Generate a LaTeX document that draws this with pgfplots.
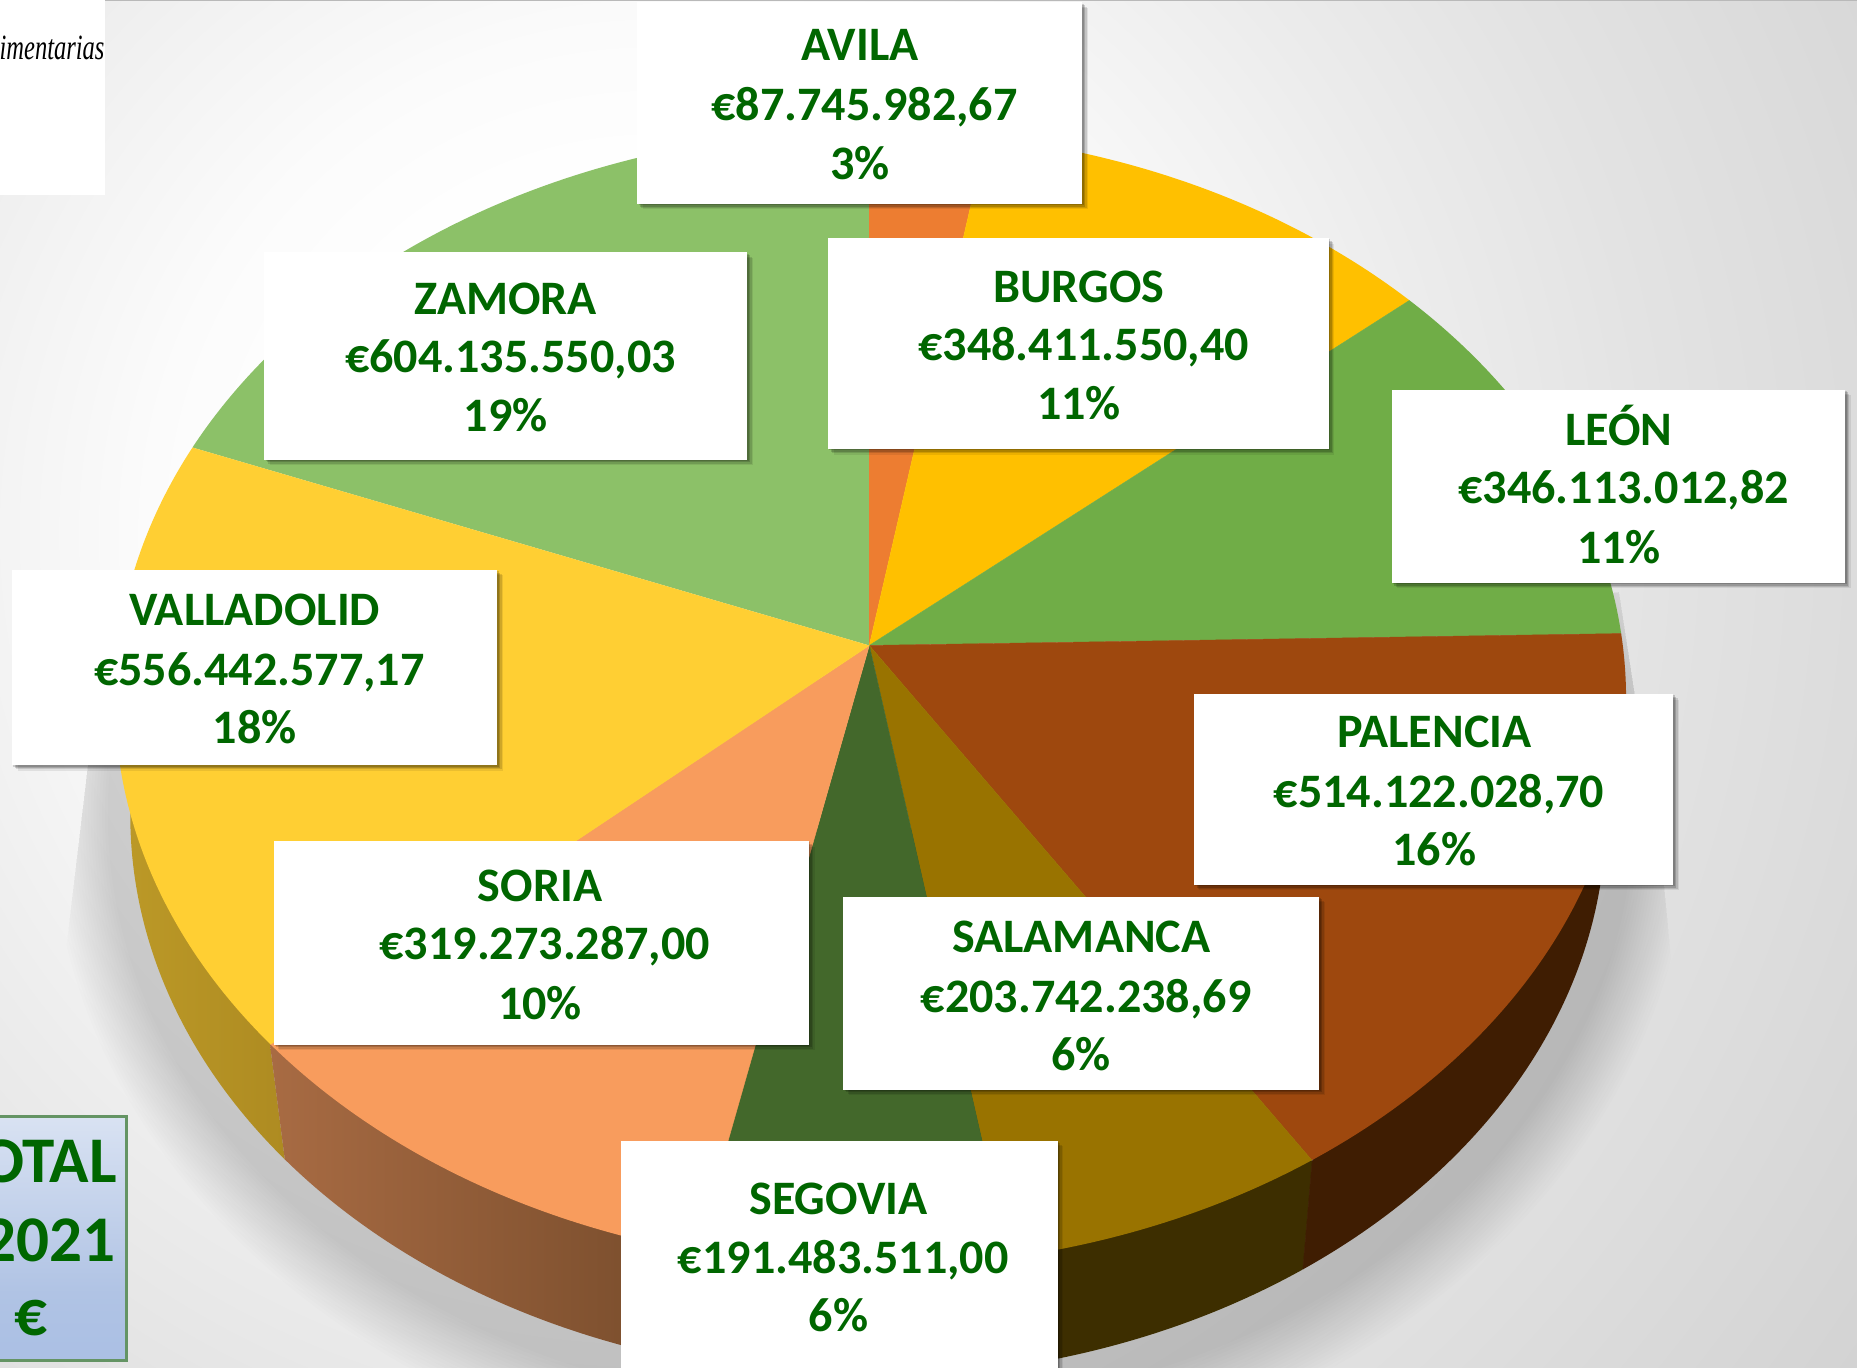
\documentclass[border=0pt]{standalone}
\usepackage{fontspec}
\setmainfont{Carlito}
\newfontfamily\timesit{Liberation Serif}
\usepackage{pgfplots}
\pgfplotsset{compat=1.18}
\definecolor{lab}{HTML}{006600}
\definecolor{cAvila}{HTML}{ED7D31}
\definecolor{cBurgos}{HTML}{FFC000}
\definecolor{cLeon}{HTML}{70AD47}
\definecolor{cPalencia}{HTML}{9E480E}
\definecolor{cSalamanca}{HTML}{997300}
\definecolor{cSegovia}{HTML}{43682B}
\definecolor{cSoria}{HTML}{F89C5D}
\definecolor{cValladolid}{HTML}{FFCF33}
\definecolor{cZamora}{HTML}{8CC168}
\definecolor{sSegovia}{HTML}{2A3E1A}
\definecolor{sSalamanca}{HTML}{3D2E00}
\definecolor{sPalencia}{HTML}{3F1D02}
\pgfdeclareradialshading{bgshade}{\pgfpoint{0bp}{0bp}}{%
  rgb(0bp)=(1,1,1); rgb(6.4bp)=(1,1,1); rgb(9.6bp)=(.985,.985,.985);
  rgb(15.4bp)=(.925,.925,.925); rgb(19.3bp)=(.89,.89,.89);
  rgb(32bp)=(.80,.80,.80); rgb(42bp)=(.77,.77,.77); rgb(50bp)=(.76,.76,.76)}
\pgfdeclareverticalshading{totalshade}{100bp}{%
  rgb(0bp)=(.737,.8,.91); rgb(19bp)=(.66,.745,.894); rgb(39bp)=(.69,.765,.894); rgb(100bp)=(.96,.97,.99)}
\newcommand{\lbox}[4]{%
  \addplot[fill=black,draw=none,opacity=.16,xshift=.6pt,yshift=-.6pt,forget plot] coordinates {(#1,#2)(#3,#2)(#3,#4)(#1,#4)};
  \addplot[fill=black,draw=none,opacity=.16,xshift=1.2pt,yshift=-1.2pt,forget plot] coordinates {(#1,#2)(#3,#2)(#3,#4)(#1,#4)};
  \addplot[fill=black,draw=none,opacity=.12,xshift=1.8pt,yshift=-1.8pt,forget plot] coordinates {(#1,#2)(#3,#2)(#3,#4)(#1,#4)};
  \addplot[fill=black,draw=none,opacity=.08,xshift=2.4pt,yshift=-2.4pt,forget plot] coordinates {(#1,#2)(#3,#2)(#3,#4)(#1,#4)};
  \addplot[fill=white,draw=none,forget plot] coordinates {(#1,#2)(#3,#2)(#3,#4)(#1,#4)};
}
\newcommand{\ltext}[7]{%
  \node[lab,font=\fontsize{20.3}{20.3}\selectfont\bfseries,anchor=base] at (axis cs:#1,#2+13.5) {#5};
  \node[lab,font=\fontsize{20.3}{20.3}\selectfont\bfseries,anchor=base] at (axis cs:#1+4,#3+13.5) {#6};
  \node[lab,font=\fontsize{20.3}{20.3}\selectfont\bfseries,anchor=base] at (axis cs:#1,#4+13.5) {#7};
}
\begin{document}
\begin{tikzpicture}
\path[use as bounding box,clip] (0,0) rectangle (784pt,577.5pt);
\begin{axis}[
  at={(0,0)},anchor=south west,
  scale only axis,width=784pt,height=577.5pt,
  xmin=0,xmax=1568,ymin=0,ymax=1155,y dir=reverse,
  hide axis,clip=false,no markers]
% background
\shade[shading=bgshade] (axis cs:-550,-650) rectangle (axis cs:1650,1550);
\addplot[draw={rgb,255:red,185;green,185;blue,185},line width=.5pt,forget plot] coordinates {(88,0.4)(1568,0.4)};
% halo and shadow under the pie
\begin{scope}
\clip (axis cs:75,640) -- (axis cs:50,850) -- (axis cs:40,1300) -- (axis cs:1440,1300) -- (axis cs:1415,850) -- (axis cs:1405,747) -- (axis cs:1367,500) -- cycle;
\pgfplotsinvokeforeach{230,220,210,200,190,180,170,160,150,140,130,120,110,100}{
  \fill[white,opacity=.02] (axis cs:735,688) ellipse [x radius=620+0.8*#1,y radius=475+#1];
}
\pgfplotsinvokeforeach{90,87,84,81,78,75,72,69,66,63,60,57,54,51,48,45,42,39,36,33,30}{
  \fill[black,opacity=.009] (axis cs:735,688) ellipse [x radius=620+0.8*#1,y radius=475+#1];
}
\end{scope}
% side wall of the pie
\begin{scope}
\clip (axis cs:733,688) ellipse [x radius=623,y radius=475];
\addplot[left color={rgb,255:red,208;green,174;blue,48},right color={rgb,255:red,171;green,136;blue,32},draw=none,forget plot] coordinates {(-100,300)(228,600)(228,882)(269,1200)(-100,1200)};
\addplot[left color={rgb,255:red,168;green,107;blue,67},right color={rgb,255:red,116;green,74;blue,42},draw=none,forget plot] coordinates {(228,882)(269,1200)(600,1200)(600,700)};
\addplot[fill=sSegovia,draw=sSegovia,line width=.2pt,forget plot] coordinates {(600,700)(600,1200)(865,1200)(865,700)};
\addplot[fill=sSalamanca,draw=sSalamanca,line width=.2pt,forget plot] coordinates {(865,900)(865,1200)(1089,1200)(1108,980)};
\addplot[fill=sPalencia,draw=sPalencia,line width=.2pt,forget plot] coordinates {(1108,980)(1089,1200)(1500,1200)(1500,500)};
\end{scope}
% top of the pie: slices meet at the apex (734,545)
\begin{scope}
\clip (axis cs:735,590) ellipse [x radius=638,y radius=480];
\addplot[fill=cZamora,draw=cZamora,line width=.2pt,forget plot] coordinates {(734,545)(734,-300)(-408,-300)(-408,211)};
\addplot[fill=cAvila,draw=cAvila,line width=.2pt,forget plot] coordinates {(734,545)(734,-300)(929,-300)};
\addplot[fill=cBurgos,draw=cBurgos,line width=.2pt,forget plot] coordinates {(734,545)(929,-300)(1642,-300)(1642,-35)};
\addplot[fill=cLeon,draw=cLeon,line width=.2pt,forget plot] coordinates {(734,545)(1642,-35)(2000,-35)(2000,525)};
\addplot[fill=cPalencia,draw=cPalencia,line width=.2pt,forget plot] coordinates {(734,545)(2000,525)(2000,1415)(1482,1415)};
\addplot[fill=cSalamanca,draw=cSalamanca,line width=.2pt,forget plot] coordinates {(734,545)(1482,1415)(932,1415)};
\addplot[fill=cSegovia,draw=cSegovia,line width=.2pt,forget plot] coordinates {(734,545)(932,1415)(486,1415)};
\addplot[fill=cSoria,draw=cSoria,line width=.2pt,forget plot] coordinates {(734,545)(486,1415)(-278,1415)(-278,1219)};
\addplot[fill=cValladolid,draw=cValladolid,line width=.2pt,forget plot] coordinates {(734,545)(-278,1219)(-408,1219)(-408,211)};
\end{scope}
% top-left box
\addplot[fill=white,draw=none,forget plot] coordinates {(0,0)(88.6,0)(88.6,164.5)(0,164.5)};
\node[anchor=base east,inner sep=0pt,xscale=.69,font=\fontsize{15}{15}\selectfont\timesit\itshape] at (axis cs:88.5,50) {imentarias};
% labels
\lbox{538}{2}{914}{172}
\ltext{726}{38}{88}{138}{AVILA}{€87.745.982,67}{3\%}
\lbox{223}{213}{631}{388}
\ltext{427}{252}{301}{351}{ZAMORA}{€604.135.550,03}{19\%}
\lbox{699}{201}{1122}{379}
\ltext{911}{242}{291}{341}{BURGOS}{€348.411.550,40}{11\%}
\lbox{1175}{329}{1558}{492}
\ltext{1367}{363}{412}{462}{LEÓN}{€346.113.012,82}{11\%}
\lbox{10}{481}{420}{646}
\ltext{215}{515}{565}{614}{VALLADOLID}{€556.442.577,17}{18\%}
\lbox{1008}{586}{1413}{747}
\ltext{1211}{618}{668}{717}{PALENCIA}{€514.122.028,70}{16\%}
\lbox{712}{757}{1114}{920}
\ltext{913}{791}{841}{890}{SALAMANCA}{€203.742.238,69}{6\%}
\lbox{231}{710}{683}{882}
\ltext{456}{748}{797}{847}{SORIA}{€319.273.287,00}{10\%}
\lbox{524}{963}{893}{1170}
\ltext{708}{1012}{1062}{1111}{SEGOVIA}{€191.483.511,00}{6\%}
% total box
\addplot[shade,shading=totalshade,draw={rgb,255:red,100;green,148;blue,100},line width=1.2pt,forget plot] coordinates {(-10,943)(107,943)(107,1149)(-10,1149)(-10,943)};
\node[lab,font=\fontsize{27.5}{27.5}\selectfont\bfseries] at (axis cs:28,981) {TOTAL};
\node[lab,font=\fontsize{27.5}{27.5}\selectfont\bfseries] at (axis cs:42,1047) {2021};
\node[lab,font=\fontsize{27.5}{27.5}\selectfont\bfseries] at (axis cs:26,1113) {€};
\end{axis}
\end{tikzpicture}
\end{document}
